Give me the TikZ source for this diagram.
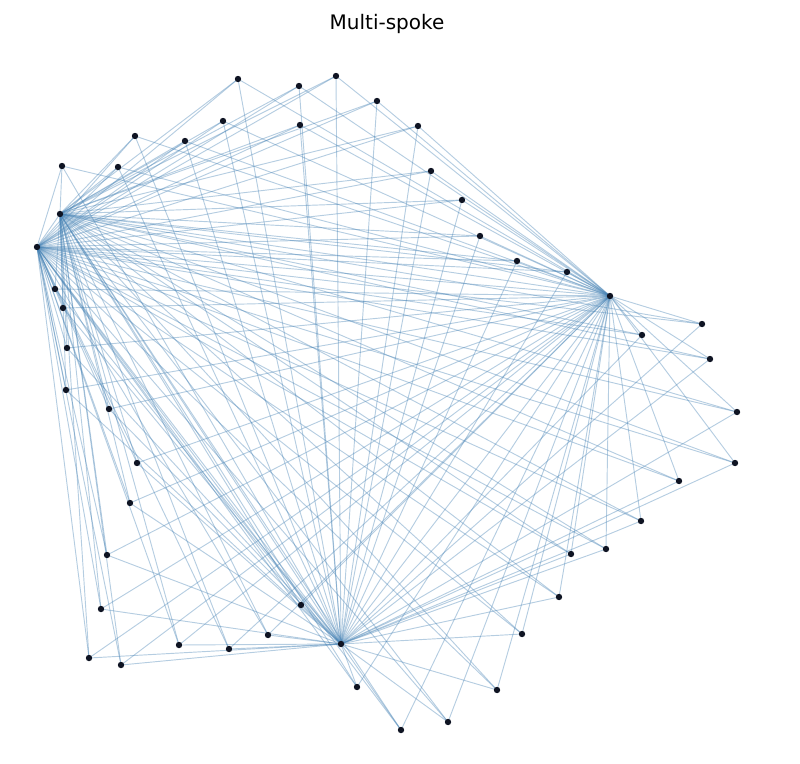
\documentclass[tikz,border=0pt]{standalone}
\usepackage{fontspec}
\setmainfont{DejaVu Sans}
\definecolor{edgeblue}{RGB}{70,130,180}
\definecolor{dotcol}{RGB}{15,20,35}
\tikzset{
  edge/.style={draw=edgeblue, draw opacity=0.4, line width=0.7pt},
  dot/.style={circle, fill=dotcol, inner sep=0pt, minimum size=4.8pt},
  ttl/.style={font=\fontsize{15}{18}\selectfont, text=black}
}
\begin{document}
\begin{tikzpicture}[x=0.75pt, y=-0.75pt]
\useasboundingbox (0,0) rectangle (800,764);
\node[ttl] (title) at (387,24) {Multi-spoke};
% hubs
\coordinate (h1) at (60,214);
\coordinate (h2) at (37,247);
\coordinate (h3) at (610,296);
\coordinate (h4) at (341,644);
% leaves
\foreach \i/\x/\y in {
 1/238/79, 2/299/86, 3/336/76, 4/377/101, 5/223/121, 6/300/125, 7/418/126,
 8/135/136, 9/185/141, 10/62/166, 11/118/167, 12/431/171, 13/462/200,
 14/480/236, 15/517/261, 16/567/272, 17/702/324, 18/642/335, 19/710/359,
 20/737/412, 21/735/463, 22/679/481, 23/641/521, 24/606/549, 25/571/554,
 26/559/597, 27/522/634, 28/497/690, 29/448/722, 30/401/730, 31/357/687,
 32/301/605, 33/268/635, 34/229/649, 35/179/645, 36/121/665, 37/89/658,
 38/101/609, 39/107/555, 40/130/503, 41/137/463, 42/109/409, 43/66/390,
 44/67/348, 45/63/308, 46/55/289}
 { \coordinate (l\i) at (\x,\y); }
% edges
\foreach \i in {1,...,46} {
  \foreach \h in {h1,h2,h3,h4} { \draw[edge] (l\i) -- (\h); }
}
\draw[edge] (h1) -- (h2);
\draw[edge] (h1) -- (h3);
\draw[edge] (h1) -- (h4);
\draw[edge] (h2) -- (h3);
\draw[edge] (h2) -- (h4);
\draw[edge] (h3) -- (h4);
% dots
\foreach \i in {1,...,46} { \node[dot] (d\i) at (l\i) {}; }
\foreach \h in {h1,h2,h3,h4} { \node[dot] (d\h) at (\h) {}; }
\end{tikzpicture}
\end{document}
